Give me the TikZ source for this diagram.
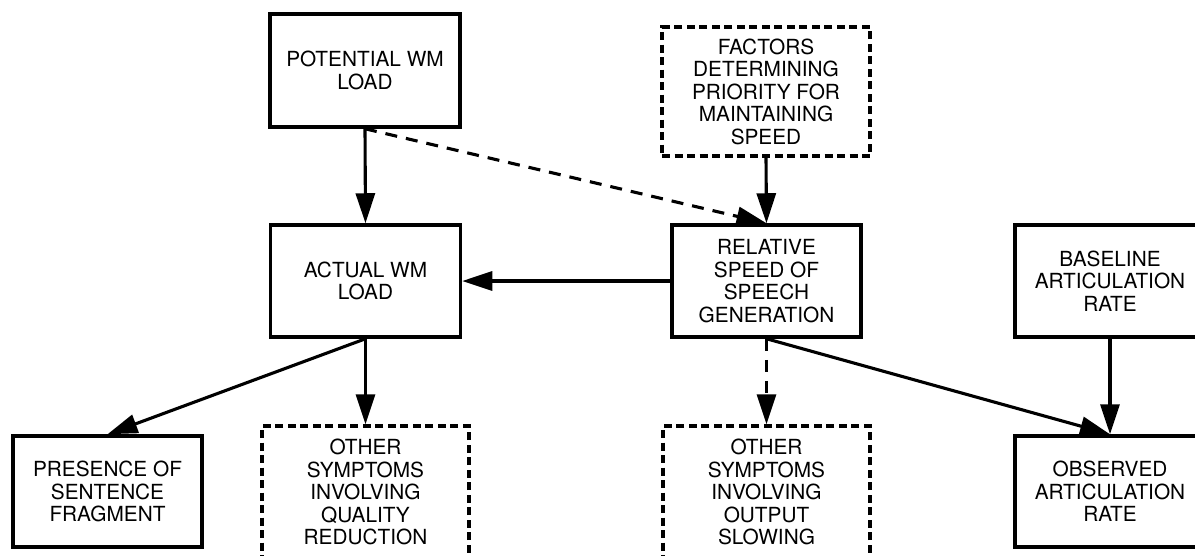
\documentclass[tikz,border=0pt]{standalone}
\usepackage{fontspec}
\setmainfont{TeX Gyre Heros}
\usetikzlibrary{arrows.meta}
\begin{document}
\begin{tikzpicture}[x=1pt,y=-1pt,
  box/.style={draw=black,line width=3.5pt,fill=white,rectangle,inner sep=0pt,
    align=center,font=\fontsize{20.8}{22.5}\selectfont},
  solidbox/.style={box},
  dashbox/.style={box,line width=3.3pt,dash pattern=on 8pt off 4.5pt},
  link/.style={line width=3.1pt,-{Triangle[length=30pt,width=19pt]}},
  dashlink/.style={link,dash pattern=on 12pt off 9pt}]
\clip (0,0) rectangle (1195,555);
\fill[white] (0,0) rectangle (1195,555);

% top row
\node[solidbox,minimum width=190pt,minimum height=113pt] (pot) at (365,70.5)
  {POTENTIAL WM\\LOAD};
\node[dashbox,minimum width=208pt,minimum height=129pt] (fac) at (766,91.5)
  {FACTORS\\DETERMINING\\PRIORITY FOR\\MAINTAINING\\SPEED};

% middle row
\node[solidbox,minimum width=190pt,minimum height=112pt] (act) at (365.5,281)
  {ACTUAL WM\\LOAD};
\node[solidbox,minimum width=189pt,minimum height=112pt] (rel) at (766.5,281)
  {RELATIVE\\SPEED OF\\SPEECH\\GENERATION};
\node[solidbox,minimum width=190pt,minimum height=112pt] (base) at (1110,281)
  {BASELINE\\ARTICULATION\\RATE};

% bottom row
\node[solidbox,minimum width=189pt,minimum height=111pt] (pres) at (107.5,491.5)
  {PRESENCE OF\\SENTENCE\\FRAGMENT};
\node[dashbox,minimum width=207pt,minimum height=132pt] (qual) at (365.5,492)
  {OTHER\\SYMPTOMS\\INVOLVING\\QUALITY\\REDUCTION};
\node[dashbox,minimum width=207pt,minimum height=132pt] (slow) at (766.5,492)
  {OTHER\\SYMPTOMS\\INVOLVING\\OUTPUT\\SLOWING};
\node[solidbox,minimum width=190pt,minimum height=111pt] (obs) at (1110,491.5)
  {OBSERVED\\ARTICULATION\\RATE};

% connectors
\draw[link] (pot.south) -- (act.north);
\draw[dashlink] (pot.south) -- (rel.north);
\draw[link] (fac.south) -- (rel.north);
\draw[link] (rel.west) -- (act.east);
\draw[link] (act.south) -- (pres.north);
\draw[link] (act.south) -- (qual.north);
\draw[dashlink] (rel.south) -- (slow.north);
\draw[link] (rel.south) -- (obs.north);
\draw[link] (base.south) -- (obs.north);
\end{tikzpicture}
\end{document}
